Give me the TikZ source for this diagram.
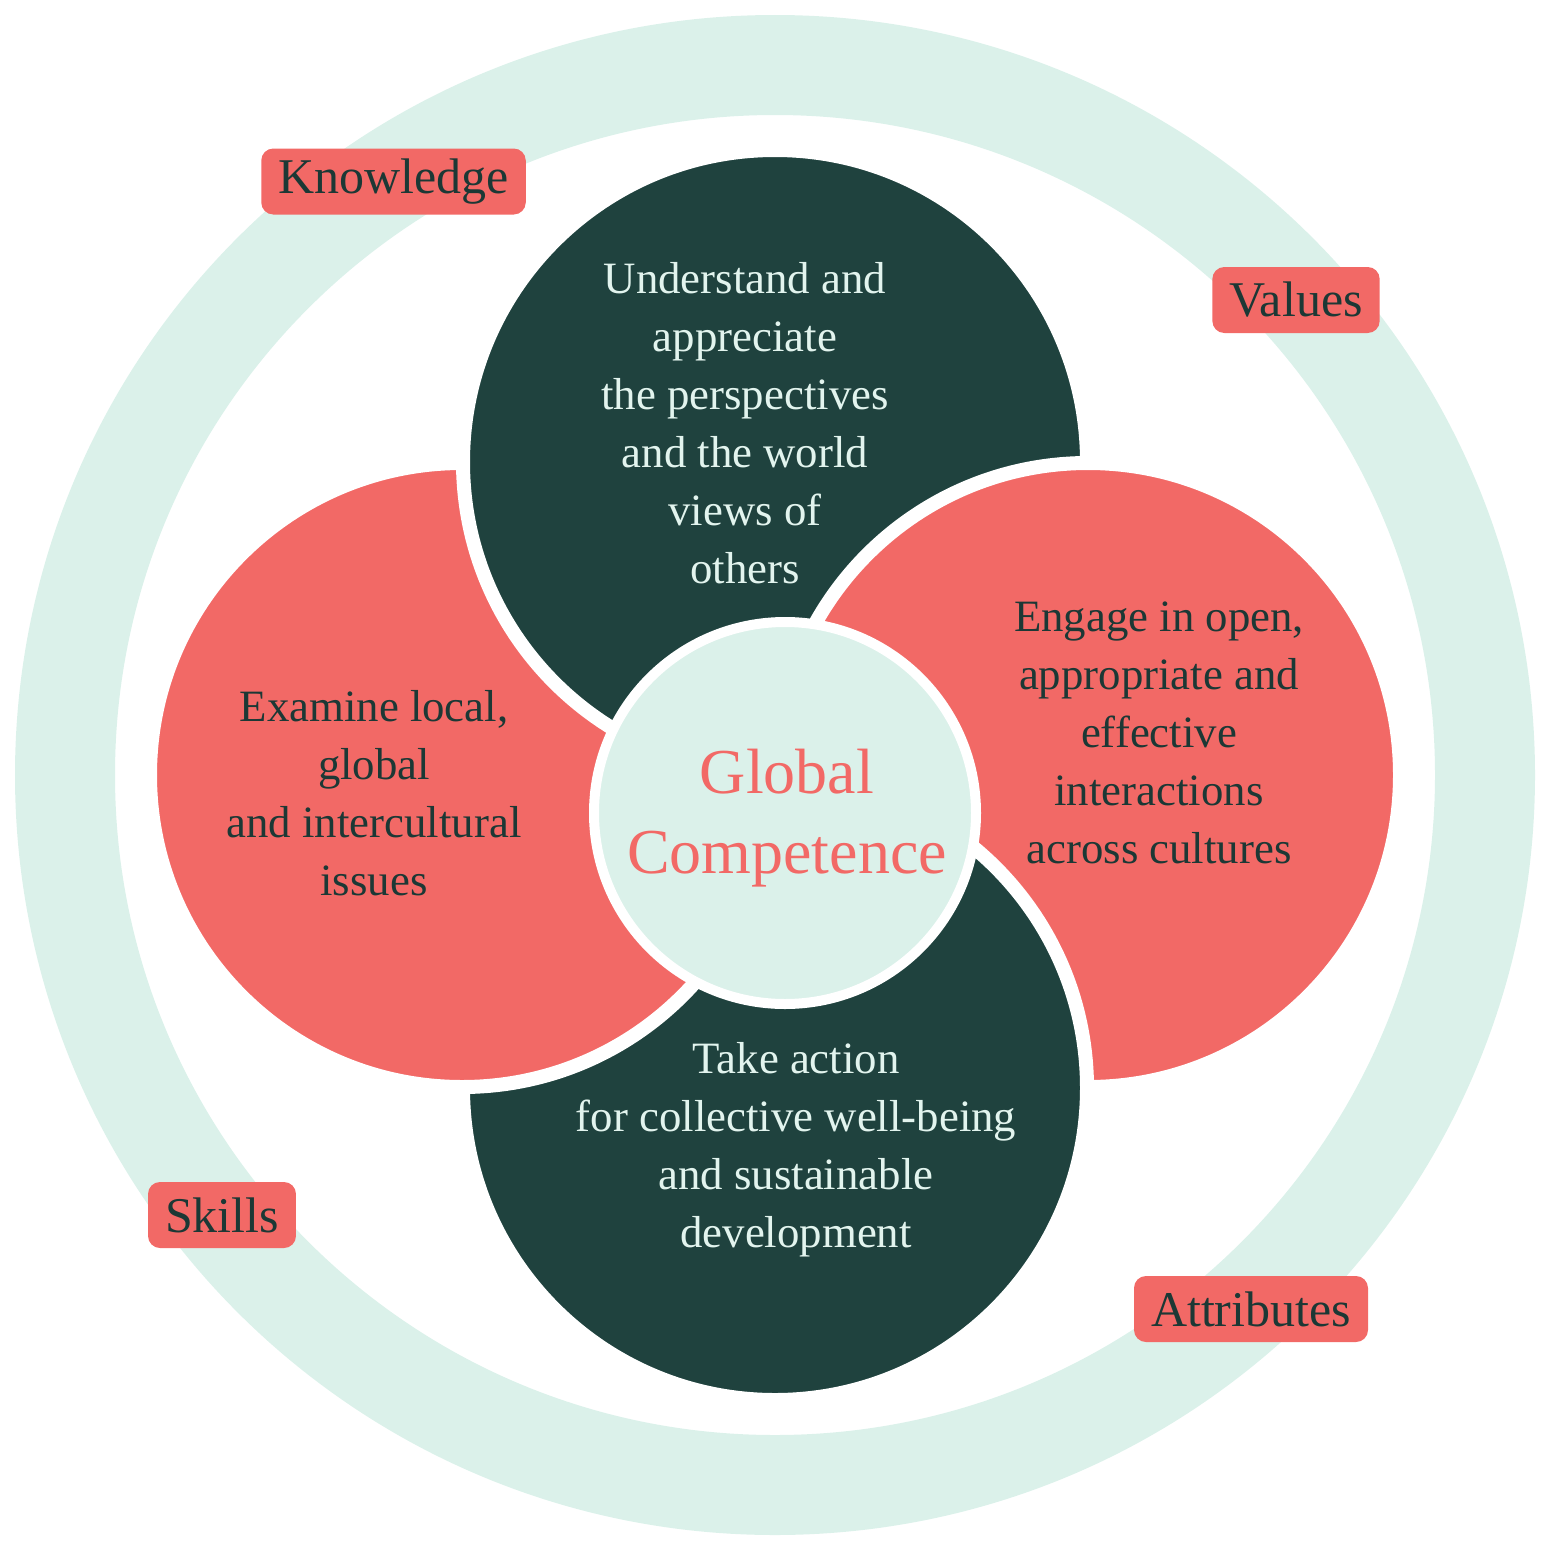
\documentclass[tikz,border=0pt]{standalone}
\usepackage{fontspec}
\setmainfont{Liberation Serif}
\usetikzlibrary{positioning}

\definecolor{ringmint}{HTML}{DBF1EA}
\definecolor{deepgreen}{HTML}{1F423E}
\definecolor{coral}{HTML}{F26966}
\definecolor{palemint}{HTML}{E2F4EE}
\definecolor{inkgreen}{HTML}{1C3835}

\begin{document}
\begin{tikzpicture}[
    x=0.5pt, y=-0.5pt,
    petal/.style={circle, draw=white, line width=7pt, minimum size=312pt, inner sep=0pt},
    core/.style={circle, draw=white, fill=ringmint, line width=5pt, minimum size=191pt, inner sep=0pt},
    darktxt/.style={align=center, text=palemint, font=\fontsize{22.4pt}{29pt}\selectfont},
    lighttxt/.style={align=center, text=inkgreen, font=\fontsize{22.4pt}{29pt}\selectfont},
    tagbox/.style={fill=coral, rounded corners=6pt, text=inkgreen, minimum height=33pt,
        inner xsep=8.5pt, inner ysep=0pt, font=\fontsize{25pt}{30pt}\selectfont}
]
\useasboundingbox (0,0) rectangle (1547,1547);
% outer ring
\node[circle, draw=ringmint, line width=50pt, minimum size=710pt, inner sep=0pt] (ring) at (775,775) {};
% the four petals, each one lying over the next
\node[petal, fill=deepgreen] (understand) at (775,462) {};
\node[petal, fill=coral] (engage) at (1088,775) {};
\node[petal, fill=deepgreen] (action) at (775,1088) {};
\node[petal, fill=coral] (examine) at (462,775) {};
\begin{scope}
    \clip (examine.center) circle[radius=162pt];
    \node[petal, fill=deepgreen] at (understand.center) {};
\end{scope}
\node[core] (gc) at (785,813) {};
% texts
\node[darktxt] (understandtxt) at (745,423) {Understand and\\appreciate\\the perspectives\\and the world\\views of\\others};
\node[lighttxt] (examinetxt) at (374,793) {Examine local,\\global\\and intercultural\\issues};
\node[lighttxt] (engagetxt) at (1159,733) {Engage in open,\\appropriate and\\effective\\interactions\\across cultures};
\node[darktxt] (actiontxt) at (796,1150) {Take action\\for collective well-being\\and sustainable\\development};
\node[align=center, text=coral, font=\fontsize{32pt}{40pt}\selectfont] (gctxt) at (787,818) {Global\\Competence};
% labels on the ring
\node[tagbox] (knowledge) at (393.5,181.5) {Knowledge};
\node[tagbox] (values) at (1296,300) {Values};
\node[tagbox] (skills) at (222,1215) {Skills};
\node[tagbox] (attributes) at (1251,1309) {Attributes};
\end{tikzpicture}
\end{document}
